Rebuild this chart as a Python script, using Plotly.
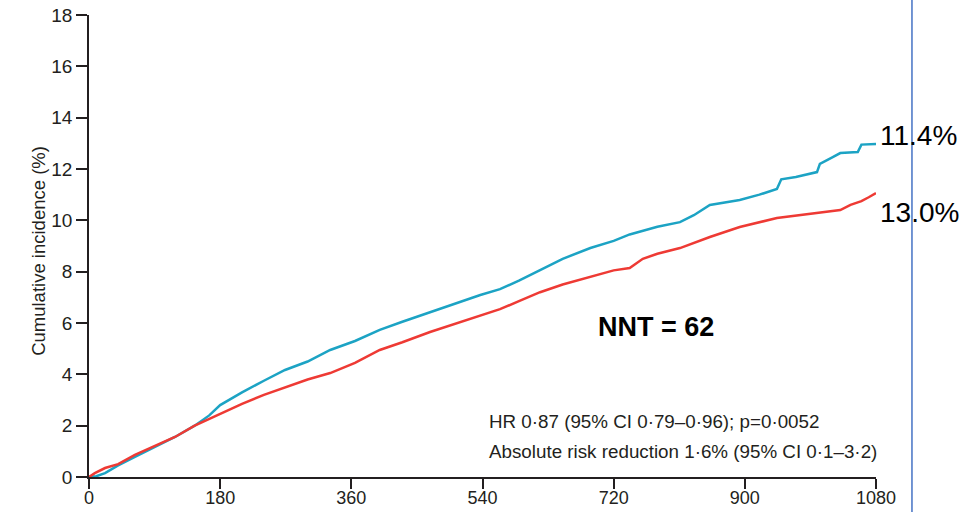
import plotly.graph_objects as go

# Days since randomisation
blue_days = [0, 10, 22, 40, 63, 90, 118, 145, 165, 180, 210, 240, 269, 300, 331, 365, 399, 430,
             468, 500, 537, 564, 590, 619, 650, 688, 720, 742, 780, 811, 830, 852, 893, 920, 944,
             950, 970, 999, 1003, 1020, 1031, 1055, 1060, 1080]
blue_vals = [0, 0.03, 0.15, 0.45, 0.78, 1.15, 1.56, 2.0, 2.4, 2.8, 3.3, 3.75, 4.17, 4.5, 4.95, 5.3,
             5.73, 6.05, 6.43, 6.75, 7.09, 7.32, 7.65, 8.06, 8.5, 8.92, 9.2, 9.45, 9.75, 9.93, 10.2,
             10.6, 10.79, 11.0, 11.22, 11.6, 11.69, 11.88, 12.2, 12.45, 12.62, 12.66, 12.95, 12.97]

red_days = [0, 8, 22, 40, 63, 90, 118, 145, 180, 210, 240, 269, 300, 331, 365, 399, 430, 468, 500,
            537, 564, 590, 619, 650, 688, 720, 742, 760, 780, 811, 852, 893, 944, 999, 1031, 1045,
            1060, 1070, 1080]
red_vals = [0, 0.15, 0.35, 0.5, 0.86, 1.2, 1.56, 2.0, 2.45, 2.85, 3.2, 3.5, 3.8, 4.05, 4.45, 4.95,
            5.25, 5.65, 5.95, 6.31, 6.54, 6.85, 7.2, 7.5, 7.8, 8.05, 8.14, 8.5, 8.7, 8.92, 9.35, 9.74,
            10.09, 10.3, 10.4, 10.6, 10.75, 10.9, 11.06]

x_ticks = [0, 180, 360, 540, 720, 900, 1080]
y_ticks = [0, 2, 4, 6, 8, 10, 12, 14, 16, 18]

blue_label = "11.4%"
red_label = "13.0%"
nnt_text = "NNT = 62"
stats_lines = ["HR 0·87 (95% CI 0·79–0·96); p=0·0052",
               "Absolute risk reduction 1·6% (95% CI 0·1–3·2)"]
y_title = "Cumulative incidence (%)"

BLUE = "#1CA3C4"
RED = "#EE3A34"
DARK = "#231F20"
FONT = "Liberation Sans"

fig = go.Figure()
fig.add_trace(go.Scatter(x=blue_days, y=blue_vals, mode="lines",
                         line=dict(color=BLUE, width=2.5), showlegend=False))
fig.add_trace(go.Scatter(x=red_days, y=red_vals, mode="lines",
                         line=dict(color=RED, width=2.5), showlegend=False))

fig.update_layout(
    width=964, height=512,
    margin=dict(l=89, r=88, t=15, b=35),
    paper_bgcolor="white", plot_bgcolor="white",
    font=dict(family=FONT, color=DARK),
)
fig.update_xaxes(range=[0, 1080], tickvals=x_ticks, ticktext=[str(v) for v in x_ticks],
                 showgrid=False, zeroline=False, showline=True, linecolor=DARK, linewidth=1.5,
                 ticks="outside", ticklen=10, tickwidth=1.5, tickcolor=DARK, automargin=False,
                 ticklabelstandoff=-6,
                 tickfont=dict(size=18, family=FONT, color=DARK))
fig.update_yaxes(range=[0, 18], tickvals=y_ticks, ticktext=[str(v) for v in y_ticks],
                 showgrid=False, zeroline=False, showline=True, linecolor=DARK, linewidth=1.5,
                 ticks="outside", ticklen=11, tickwidth=1.5, tickcolor=DARK, automargin=False,
                 tickfont=dict(size=19, family=FONT, color=DARK))

# y-axis title
fig.add_annotation(x=-0.081, y=0.489, xref="paper", yref="paper", text=y_title,
                   textangle=-90, showarrow=False, font=dict(size=18.5, family=FONT, color=DARK))

# end labels
fig.add_annotation(x=1.002, y=13.32, xref="paper", yref="y", text=blue_label,
                   showarrow=False, xanchor="left", font=dict(size=28, family=FONT, color="black"))
fig.add_annotation(x=1.002, y=10.32, xref="paper", yref="y", text=red_label,
                   showarrow=False, xanchor="left", font=dict(size=28, family=FONT, color="black"))

# NNT
fig.add_annotation(x=778, y=5.84, xref="x", yref="y", text="<b>" + nnt_text + "</b>",
                   showarrow=False, font=dict(size=27, family=FONT, color="black"))

# statistics text
fig.add_annotation(x=546, y=2.18, xref="x", yref="y", text=stats_lines[0], showarrow=False,
                   xanchor="left", font=dict(size=18.8, family=FONT, color=DARK))
fig.add_annotation(x=546, y=1.01, xref="x", yref="y", text=stats_lines[1], showarrow=False,
                   xanchor="left", font=dict(size=18.8, family=FONT, color=DARK))

# slide border line on right
fig.add_shape(type="line", xref="paper", yref="paper", x0=1.0457, x1=1.0457, y0=-0.1, y1=1.1,
              line=dict(color="#4472C4", width=1.5))

fig.write_html("out.html")
